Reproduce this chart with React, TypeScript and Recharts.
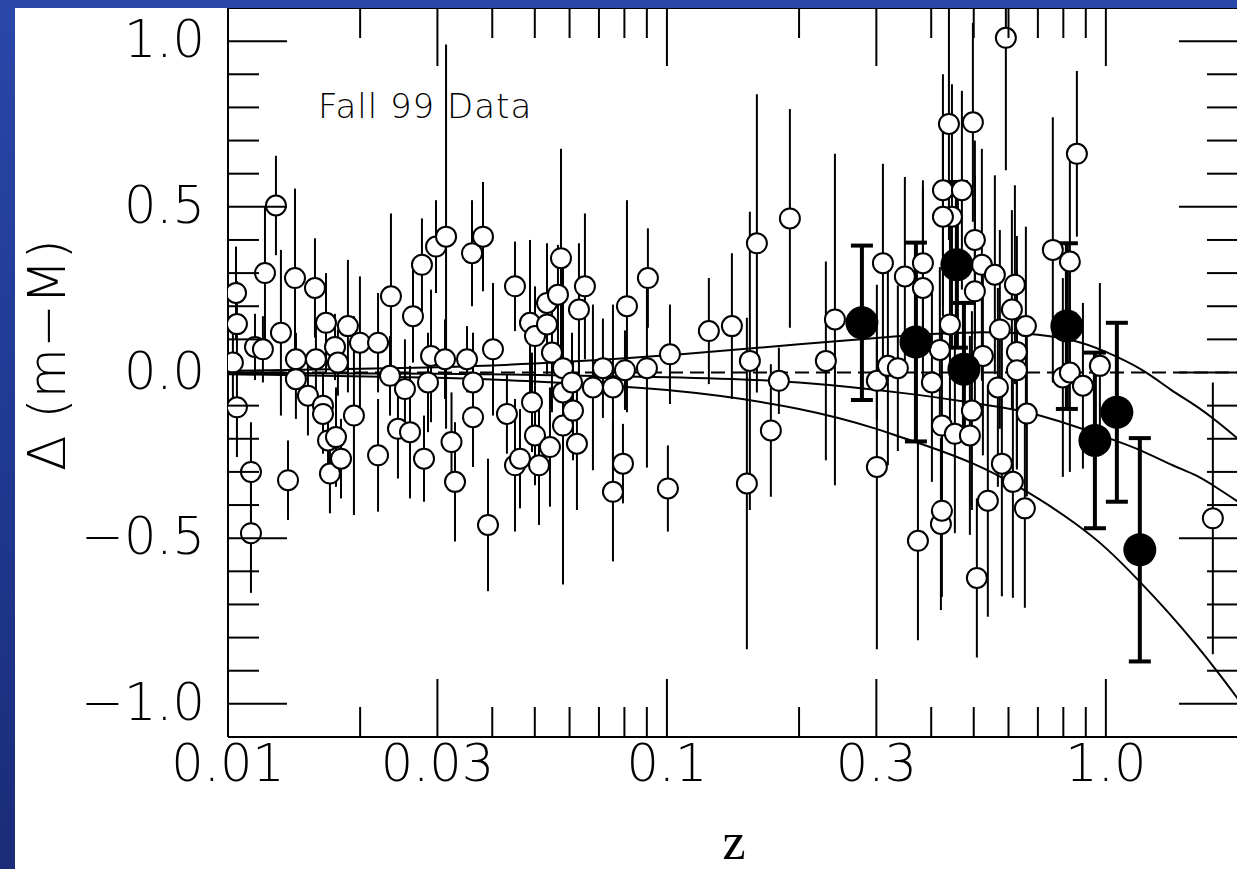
import {
  ComposedChart,
  Scatter,
  Line,
  XAxis,
  YAxis,
  ErrorBar,
  ReferenceLine,
  Customized,
} from "recharts";

// #region data: [z, Δ(m−M), error]
const openPoints: [number, number, number][] = [
  [0.01026, 0.03, 0.12], [0.01043, 0.24, 0.14], [0.01048, 0.146, 0.13], [0.01048, -0.105, 0.15],
  [0.01128, -0.3, 0.15], [0.01128, -0.485, 0.18], [0.01152, 0.077, 0.1], [0.01201, 0.07, 0.1],
  [0.01214, 0.3, 0.2], [0.01286, 0.504, 0.15], [0.0132, 0.12, 0.25], [0.0137, -0.325, 0.12],
  [0.01421, 0.285, 0.27], [0.01428, 0.04, 0.08], [0.01428, -0.02, 0.12], [0.01521, -0.07, 0.12],
  [0.01578, 0.255, 0.15], [0.01586, 0.04, 0.1], [0.01646, -0.1, 0.1], [0.01646, -0.125, 0.12],
  [0.01672, 0.15, 0.15], [0.0169, -0.205, 0.12], [0.01707, -0.305, 0.12], [0.01753, 0.077, 0.1],
  [0.01762, -0.195, 0.15], [0.0178, 0.03, 0.1], [0.01809, -0.26, 0.12], [0.01876, 0.14, 0.2],
  [0.01936, -0.13, 0.3], [0.01998, 0.09, 0.2], [0.02197, 0.09, 0.15], [0.02197, -0.25, 0.17],
  [0.02339, -0.01, 0.12], [0.02351, 0.23, 0.25], [0.02439, -0.17, 0.15], [0.0253, -0.05, 0.15],
  [0.02598, -0.18, 0.2], [0.02639, 0.17, 0.14], [0.02766, 0.325, 0.14], [0.02796, -0.26, 0.13],
  [0.02855, -0.03, 0.15], [0.02901, 0.05, 0.2], [0.02978, 0.38, 0.14], [0.03139, 0.41, 0.58],
  [0.03122, 0.04, 0.12], [0.0323, -0.21, 0.15], [0.0329, -0.33, 0.18], [0.03504, 0.04, 0.1],
  [0.03597, 0.36, 0.16], [0.03616, -0.03, 0.15], [0.03616, -0.135, 0.15], [0.0381, 0.41, 0.165],
  [0.03911, -0.46, 0.2], [0.04015, 0.07, 0.2], [0.0432, -0.125, 0.12], [0.04506, 0.26, 0.135],
  [0.04506, -0.28, 0.2], [0.04626, -0.26, 0.15], [0.04875, 0.15, 0.25], [0.04927, -0.09, 0.15],
  [0.05005, 0.11, 0.15], [0.05005, -0.19, 0.15], [0.05111, -0.28, 0.18], [0.0533, 0.21, 0.18],
  [0.0533, 0.145, 0.15], [0.05414, -0.225, 0.18], [0.05471, 0.06, 0.18], [0.05646, 0.235, 0.15],
  [0.05736, 0.345, 0.33], [0.05797, 0.013, 0.2], [0.05797, -0.06, 0.2], [0.05797, -0.16, 0.48],
  [0.06077, -0.03, 0.15], [0.06109, -0.115, 0.15], [0.06237, -0.215, 0.2], [0.06303, 0.19, 0.2],
  [0.06504, 0.26, 0.22], [0.06783, -0.045, 0.25], [0.07148, 0.013, 0.15], [0.07534, -0.045, 0.25],
  [0.07534, -0.36, 0.21], [0.0794, -0.275, 0.12], [0.08024, 0.007, 0.12], [0.08108, 0.2, 0.32],
  [0.09004, 0.013, 0.3], [0.0905, 0.285, 0.15], [0.1005, -0.35, 0.13], [0.1016, 0.055, 0.15],
  [0.1246, 0.125, 0.16], [0.1406, 0.14, 0.22], [0.1521, -0.335, 0.5], [0.1545, 0.035, 0.45],
  [0.1603, 0.39, 0.45], [0.1725, -0.175, 0.2], [0.1799, -0.025, 0.1], [0.1906, 0.465, 0.33],
  [0.2302, 0.035, 0.3], [0.2414, 0.16, 0.5], [0.3008, -0.025, 0.12], [0.3008, -0.285, 0.55],
  [0.3105, 0.33, 0.3], [0.3187, 0.02, 0.3], [0.3358, 0.013, 0.25], [0.3484, 0.29, 0.3],
  [0.3731, -0.508, 0.3], [0.383, 0.33, 0.25], [0.383, 0.255, 0.3], [0.4015, -0.03, 0.3],
  [0.4186, 0.068, 0.25], [0.4209, -0.457, 0.26], [0.4231, -0.417, 0.26], [0.4231, -0.16, 0.3],
  [0.4254, 0.55, 0.35], [0.439, 0.75, 0.35], [0.446, 0.47, 0.4], [0.4254, 0.47, 0.3],
  [0.4413, 0.145, 0.3], [0.4529, -0.185, 0.3], [0.4699, 0.55, 0.3], [0.49, -0.19, 0.3],
  [0.4952, -0.115, 0.3], [0.4978, 0.755, 0.3], [0.503, 0.4, 0.3], [0.503, 0.245, 0.35],
  [0.5083, -0.62, 0.24], [0.5218, 0.325, 0.35], [0.5246, 0.05, 0.3], [0.5384, -0.387, 0.35],
  [0.5586, 0.295, 0.3], [0.5675, -0.045, 0.3], [0.5734, 0.13, 0.3], [0.5795, -0.275, 0.4],
  [0.5918, 1.01, 0.4], [0.6108, 0.19, 0.3], [0.614, -0.33, 0.35], [0.6205, 0.265, 0.3],
  [0.627, 0.062, 0.35], [0.627, 0.007, 0.3], [0.6538, -0.41, 0.3], [0.6573, 0.14, 0.3],
  [0.6607, -0.124, 0.25], [0.7571, 0.37, 0.4], [0.798, -0.015, 0.3], [0.8279, 0.335, 0.35],
  [0.8279, 0.0, 0.3], [0.859, 0.66, 0.25], [0.8866, -0.04, 0.25], [0.9691, 0.02, 0.25],
  [1.7528, -0.44, 0.41],
];

const filledPoints: [number, number, number][] = [
  [0.2781, 0.15, 0.233], [0.3692, 0.092, 0.3], [0.4577, 0.325, 0.25], [0.4749, 0.01, 0.2],
  [0.815, 0.14, 0.25], [0.9441, -0.205, 0.265], [1.0594, -0.12, 0.27], [1.195, -0.535, 0.337],
];

// model curves, [z, Δ]
const lambdaModel: [number, number][] = [
  [0.01, 0.005], [0.02, 0.011], [0.03, 0.016], [0.05, 0.027], [0.1, 0.052], [0.2, 0.085],
  [0.3, 0.104], [0.4, 0.116], [0.5, 0.121], [0.6, 0.12], [0.7, 0.114], [0.85, 0.095],
  [1.0, 0.062], [1.2, 0.01], [1.4, -0.05], [1.6, -0.1], [1.8, -0.15], [2.0, -0.2],
];
const lowDensityModel: [number, number][] = [
  [0.01, -0.001], [0.03, -0.004], [0.1, -0.014], [0.2, -0.03], [0.35, -0.063], [0.5, -0.092],
  [0.7, -0.128], [1.0, -0.195], [1.2, -0.235], [1.42, -0.28], [1.6, -0.31], [1.8, -0.35],
  [2.0, -0.39],
];
const flatMatterModel: [number, number][] = [
  [0.01, -0.005], [0.03, -0.016], [0.05, -0.027], [0.1, -0.053], [0.2, -0.11], [0.3, -0.17],
  [0.35, -0.2], [0.5, -0.276], [0.7, -0.38], [0.85, -0.455], [1.0, -0.53], [1.2, -0.634],
  [1.4, -0.73], [1.6, -0.82], [1.8, -0.905], [2.0, -0.985],
];

const xTicks = [0.01, 0.02, 0.03, 0.04, 0.05, 0.06, 0.07, 0.08, 0.09, 0.1, 0.2, 0.3, 0.4, 0.5, 0.6, 0.7, 0.8, 0.9, 1, 2];
const xMajor = [0.01, 0.03, 0.1, 0.3, 1];
const xTickLabels = ["0.01", "0.03", "0.1", "0.3", "1.0"];

const yTicks = [-1, -0.9, -0.8, -0.7, -0.6, -0.5, -0.4, -0.3, -0.2, -0.1, 0, 0.1, 0.2, 0.3, 0.4, 0.5, 0.6, 0.7, 0.8, 0.9, 1];
const yMajor = [-1, -0.5, 0, 0.5, 1];
const yTickLabels = ["\u22121.0", "\u22120.5", "0.0", "0.5", "1.0"];
// #endregion

const toPoints = (rows: [number, number, number][]) => rows.map(([z, d, e]) => ({ z, d, e }));
const toCurve = (rows: [number, number][]) => rows.map(([z, d]) => ({ z, d }));

const PLOT_TOP = 0;
const PLOT_RIGHT = 1223;
const FONT = "'DejaVu Sans', sans-serif";

const XTick = (props: any) => {
  const { x, y, payload } = props;
  const i = xMajor.indexOf(payload.value);
  const len = i >= 0 ? 58 : 30;
  return (
    <g>
      <line x1={x} y1={y} x2={x} y2={y - len} stroke='#000' strokeWidth={2} />
      <line x1={x} y1={PLOT_TOP} x2={x} y2={PLOT_TOP + len} stroke='#000' strokeWidth={2} />
      {i >= 0 && (
        <text x={x} y={y + 44} textAnchor='middle' fontSize={51} fontFamily={FONT} fontWeight={200} fill='#000'>
          {xTickLabels[i]}
        </text>
      )}
    </g>
  );
};

const YTick = (props: any) => {
  const { x, y, payload } = props;
  const i = yMajor.indexOf(payload.value);
  const len = i >= 0 ? 59 : 31;
  return (
    <g>
      <line x1={x} y1={y} x2={x + len} y2={y} stroke='#000' strokeWidth={2} />
      <line x1={PLOT_RIGHT - len} y1={y} x2={PLOT_RIGHT} y2={y} stroke='#000' strokeWidth={2} />
      {i >= 0 && (
        <text x={x - 23} y={y + 16} textAnchor='end' fontSize={51} fontFamily={FONT} fontWeight={200} fill='#000'>
          {yTickLabels[i]}
        </text>
      )}
    </g>
  );
};

const Texts = () => (
  <g>
    <text x={303} y={110} fontSize={34} fontFamily={FONT} fontWeight={200} fill='#000' letterSpacing={1}>
      Fall 99 Data
    </text>
    <text
      x={32}
      y={347}
      transform='rotate(-90 32 347)'
      textAnchor='middle'
      dominantBaseline='central'
      fontSize={52}
      fontFamily={FONT}
      fontWeight={200}
      fill='#000'
    >
      Δ (m−M)
    </text>
    <text x={719} y={851} textAnchor='middle' fontSize={52} fontFamily="'Liberation Serif', serif" fill='#000'>
      z
    </text>
  </g>
);

const OpenCircle = (p: any) => (
  <circle cx={p.cx} cy={p.cy} r={10} fill='#fff' stroke='#000' strokeWidth={2} />
);
const FilledCircle = (p: any) => <circle cx={p.cx} cy={p.cy} r={16.5} fill='#000' />;

const HubbleResidualChart = () => {
  return (
    <div
      style={{
        position: "absolute",
        left: 0,
        top: 0,
        width: 1237,
        height: 869,
        overflow: "hidden",
        background: "linear-gradient(180deg, #2a48a8 0%, #213b95 45%, #1a2c78 100%)",
      }}
    >
      <div
        style={{
          position: "absolute",
          left: 15,
          top: 8,
          width: 1222,
          height: 861,
          background: "#fff",
          overflow: "hidden",
        }}
      >
        <ComposedChart width={1232} height={861} margin={{ top: 0, right: 9, bottom: 32, left: 13 }}>
          <XAxis
            dataKey='z'
            type='number'
            scale='log'
            domain={[0.01, 2]}
            allowDataOverflow
            ticks={xTicks}
            interval={0}
            tick={<XTick />}
            tickLine={false}
            tickSize={0}
            tickMargin={0}
            height={100}
            axisLine={{ stroke: "#000", strokeWidth: 2 }}
          />
          <YAxis
            dataKey='d'
            type='number'
            domain={[-1.1, 1.1]}
            allowDataOverflow
            ticks={yTicks}
            interval={0}
            tick={<YTick />}
            tickLine={false}
            tickSize={0}
            tickMargin={0}
            width={200}
            axisLine={{ stroke: "#000", strokeWidth: 2 }}
          />
          <ReferenceLine y={1.1} stroke='#000' strokeWidth={2} />
          <ReferenceLine y={0} stroke='#000' strokeWidth={2} strokeDasharray='14 7' />
          <Line data={toCurve(lambdaModel)} dataKey='d' type='natural' stroke='#000' strokeWidth={2} dot={false} activeDot={false} isAnimationActive={false} />
          <Line data={toCurve(lowDensityModel)} dataKey='d' type='natural' stroke='#000' strokeWidth={2} dot={false} activeDot={false} isAnimationActive={false} />
          <Line data={toCurve(flatMatterModel)} dataKey='d' type='natural' stroke='#000' strokeWidth={2} dot={false} activeDot={false} isAnimationActive={false} />
          <Scatter data={toPoints(openPoints)} shape={OpenCircle} isAnimationActive={false}>
            <ErrorBar dataKey='e' direction='y' width={0} stroke='#000' strokeWidth={2} isAnimationActive={false} />
          </Scatter>
          <Scatter data={toPoints(filledPoints)} shape={FilledCircle} isAnimationActive={false}>
            <ErrorBar dataKey='e' direction='y' width={11} stroke='#000' strokeWidth={4} isAnimationActive={false} />
          </Scatter>
          <Customized component={Texts} />
        </ComposedChart>
      </div>
    </div>
  );
};

export default HubbleResidualChart;
